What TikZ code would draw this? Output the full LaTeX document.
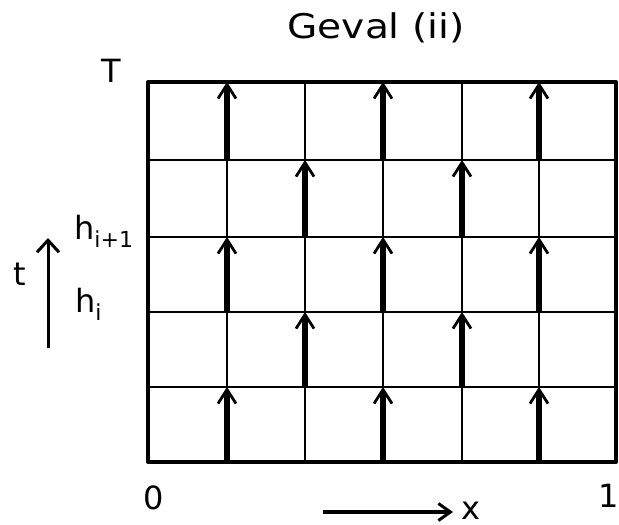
\documentclass[tikz,border=0pt]{standalone}
\usepackage{fontspec}
\setmainfont{DejaVu Sans}
\usetikzlibrary{arrows.meta}
\newcommand{\subsz}{\fontsize{22}{22}\selectfont}
\begin{document}
\begin{tikzpicture}[x=1pt,y=-1pt,
  gridthin/.style={line width=2.8pt},
  frame/.style={line width=4pt,line join=round},
  flux/.style={line width=6pt,-{Straight Barb[length=14pt,width=18pt,line width=2.8pt]}},
  lbl/.style={font=\fontsize{32}{32}\selectfont, inner sep=0pt},
  axisarrow/.style={line width=3pt,-{Straight Barb[length=12pt,width=22pt,line width=3pt]}}]
\useasboundingbox (0,0) rectangle (619,525);
% grid coordinates
\foreach \i/\x in {0/148,1/227,2/305,3/383,4/462,5/539,6/616} {
  \foreach \j/\y in {0/462,1/387,2/312,3/237,4/160,5/82} {
    \coordinate (g-\i-\j) at (\x,\y);
  }
}
\foreach \i in {1,...,5} \draw[gridthin] (g-\i-0) -- (g-\i-5);
\foreach \j in {1,...,4} \draw[gridthin] (g-0-\j) -- (g-6-\j);
\draw[frame] (g-0-0) rectangle (g-6-5);
% flux arrows
\foreach \i in {1,3,5} {
  \foreach \j in {0,2,4} {
    \pgfmathtruncatemacro\k{\j+1}
    \draw[flux] (g-\i-\j) -- (g-\i-\k);
  }
}
\foreach \i in {2,4} {
  \foreach \j in {1,3} {
    \pgfmathtruncatemacro\k{\j+1}
    \draw[flux] (g-\i-\j) -- (g-\i-\k);
  }
}
% labels
\node[lbl,font=\fontsize{34}{34}\selectfont] (title) at (376,28) {\scalebox{1.15}[1]{Geval (ii)}};
\node[lbl] (T) at (111,71) {T};
\node[lbl,anchor=base west] (hi1) at (74,239) {h\raisebox{-8pt}{\subsz i+1}};
\node[lbl,anchor=base west] (hi) at (75,312) {h\raisebox{-8pt}{\subsz i}};
\node[lbl] (t) at (20,274) {t};
\node[lbl] (zero) at (154,498) {0};
\node[lbl,anchor=east] (one) at (619,496) {1};
\node[lbl,anchor=base] (xl) at (471,519) {x};
% axis arrows
\coordinate (tb) at (48,348);
\coordinate (tt) at (48,238);
\draw[axisarrow] (tb) -- (tt);
\coordinate (xa) at (323,512);
\coordinate (xb) at (453,512);
\draw[line width=3.5pt,-{Straight Barb[length=12pt,width=17pt,line width=3pt]}] (xa) -- (xb);
\end{tikzpicture}
\end{document}
